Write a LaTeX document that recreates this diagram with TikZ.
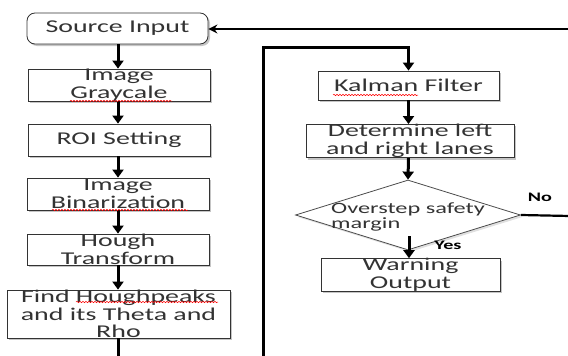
\documentclass[tikz,border=0pt]{standalone}
\usepackage{fontspec}
\setmainfont[FakeStretch=1.55]{Carlito}
\usetikzlibrary{arrows.meta,shapes.geometric,shadows,decorations.pathmorphing}
\begin{document}
\begin{tikzpicture}[x=1pt,y=-1pt,
  box/.style={draw=black!80,line width=0.8pt,fill=white,rectangle,inner sep=0pt,
    align=center,font=\fontsize{18}{17.5}\selectfont,text=black!80,
    drop shadow={shadow xshift=2pt,shadow yshift=-2pt,fill=black!45,opacity=0.5}},
  flow/.style={line width=3pt,-{Triangle[width=11pt,length=8pt]}},
  loopline/.style={line width=3pt},
  thinline/.style={line width=2.2pt},
  lbl/.style={font=\fontsize{13}{13}\selectfont\bfseries,text=black},
  squig/.style={red,line width=0.5pt,decorate,decoration={snake,segment length=3pt,amplitude=0.7pt}}
]
\useasboundingbox (0,0) rectangle (568,356);

% left column
\node[box,rounded corners=8pt,minimum width=181pt,minimum height=31pt] (src) at (117.5,28.5) {Source Input};
\node[box,minimum width=182pt,minimum height=32pt] (gray) at (119,85) {Image\\Graycale};
\node[box,minimum width=182pt,minimum height=32pt] (roi) at (119,140) {ROI Setting};
\node[box,minimum width=182pt,minimum height=32pt] (bin) at (118,194) {Image\\Binarization};
\node[box,minimum width=182pt,minimum height=31pt] (hough) at (118,249.5) {Hough\\Transform};
\node[box,minimum width=223pt,minimum height=48pt] (find) at (118.5,314) {Find Houghpeaks\\and its Theta and\\Rho};

% right column
\node[box,minimum width=181pt,minimum height=29pt] (kal) at (408.5,85.5) {Kalman Filter};
\node[box,minimum width=208pt,minimum height=30pt] (det) at (410,141) {Determine left\\and right lanes};
\node[draw=black!70,line width=0.8pt,diamond,fill=white,inner sep=0pt,minimum width=225pt,minimum height=70pt,
  drop shadow={shadow xshift=2pt,shadow yshift=-2pt,fill=black!30,opacity=0.4}] (dia) at (408,215) {};
\node[align=left,inner sep=0pt,font=\fontsize{15.7}{14.5}\selectfont,text=black!80,anchor=west] (diat) at (331,217) {Overstep safety\\margin};
\node[box,minimum width=179pt,minimum height=30pt] (warn) at (410.5,275) {Warning\\Output};

\node[lbl] (no) at (540,197) {No};
\node[lbl] (yes) at (448,245) {Yes};

% coordinates for free ends
\coordinate (tr) at (570,29);
\coordinate (nr) at (570,216);
\coordinate (bl) at (118,360);
\coordinate (lb) at (263,360);
\coordinate (lt) at (263,47);
\coordinate (kt) at (408.5,47);
\coordinate (ys) at (409,236);

% left flow
\draw[flow] (src.south -| 118,0) -- (gray.north -| 118,0);
\draw[flow] (gray.south -| 118,0) -- (roi.north -| 118,0);
\draw[flow] (roi.south -| 118,0) -- (bin.north -| 118,0);
\draw[flow] (bin.south -| 118,0) -- (hough.north -| 118,0);
\draw[flow] (hough.south -| 118,0) -- (find.north -| 118,0);
\draw[loopline] (find.south -| bl) -- (bl);

% loop into Kalman
\draw[loopline,-{Triangle[width=11pt,length=8pt]}] (lb) -- (lt) -- (kt) -- (kal.north);
\draw[flow] (kal.south -| 408.5,0) -- (det.north -| 408.5,0);
\draw[flow] (det.south -| 408.5,0) -- (dia.north);
\draw[flow] (ys) -- (warn.north -| ys);

% No branch and return
\draw[thinline] (dia.east) -- (nr);
\draw[thinline,-{Stealth[width=9pt,length=9pt]}] (tr) -- (src.east |- tr);

% spell-check squiggles
\draw[squig] (70,101) -- (172,101);
\draw[squig] (52,210) -- (188,210);
\draw[squig] (76,302) -- (218,302);
\draw[squig] (333,95) -- (418,95);
\end{tikzpicture}
\end{document}
